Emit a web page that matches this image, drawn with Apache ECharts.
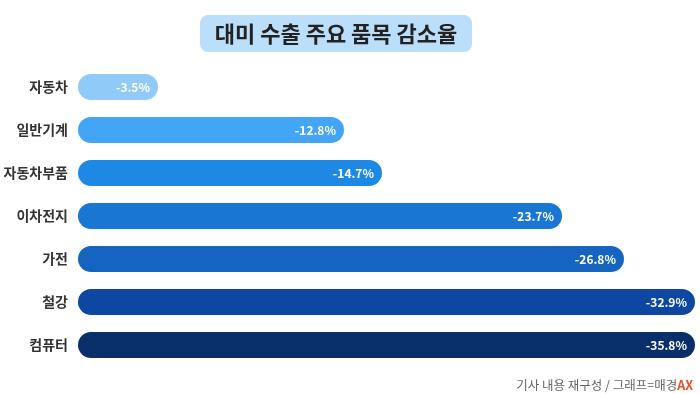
<!DOCTYPE html>
<html>
<head>
<meta charset="utf-8">
<script src="https://cdn.jsdelivr.net/npm/echarts@6/dist/echarts.min.js"></script>
<style>
html,body{margin:0;padding:0;background:#fff;}
#c{width:700px;height:394px;}
</style>
</head>
<body>
<div id="c"></div>
<script>
const titleText = '대미 수출 주요 품목 감소율';
const categories = ['자동차', '일반기계', '자동차부품', '이차전지', '가전', '철강', '컴퓨터'];
const values = [-3.5, -12.8, -14.7, -23.7, -26.8, -32.9, -35.8];
const barColors = ['#90CAF9', '#42A5F5', '#1E88E5', '#1976D2', '#1565C0', '#0D47A1', '#0A2E6A'];
const sourceText = '기사 내용 재구성 / 그래프=매경';
const sourceBrand = 'AX';

const AXIS_START = 0.5;   // bars start slightly before zero (rounded cap)
const AXIS_END = -30.35;  // plot extent; longer bars are clipped at the edge

const chart = echarts.init(document.getElementById('c'), null, {renderer: 'canvas'});
const FONT = '"Noto Sans CJK KR", "Noto Sans", sans-serif';

const option = {
  backgroundColor: '#ffffff',
  animation: false,
  grid: {left: 78, right: 5, top: 65.5, bottom: 27.5, containLabel: false},
  xAxis: {
    type: 'value', min: AXIS_END, max: AXIS_START, inverse: true,
    show: false
  },
  yAxis: {
    type: 'category', data: categories, inverse: true,
    axisLine: {show: false}, axisTick: {show: false}, splitLine: {show: false},
    axisLabel: {color: '#333', fontSize: 14, fontWeight: 'bold', fontFamily: FONT, margin: 10}
  },
  graphic: [
    {
      type: 'rect', left: 200, top: 15,
      shape: {width: 272, height: 37, r: 8},
      style: {fill: '#BBDEFB'}
    },
    {
      type: 'text', x: 336, y: 33.5,
      style: {
        text: titleText, fill: '#222', font: 'bold 22px ' + FONT,
        align: 'center', verticalAlign: 'middle'
      }
    },
    {
      type: 'text', x: 693, y: 385,
      style: {
        text: '{a|' + sourceText + '}{b|' + sourceBrand + '}',
        align: 'right', verticalAlign: 'middle',
        rich: {
          a: {fill: '#666', fontSize: 12.5, fontFamily: FONT},
          b: {fill: '#E8502A', fontSize: 12.5, fontWeight: 'bold', fontFamily: FONT}
        }
      }
    }
  ],
  series: [{
    type: 'custom',
    encode: {x: 0, y: 1},
    data: values.map((v, i) => [v, categories[i]]),
    clip: false,
    renderItem: function (params, api) {
      const idx = params.dataIndex;
      const v = api.value(0);
      const cat = api.value(1);
      const start = api.coord([AXIS_START, cat]);
      const end = api.coord([v, cat]);
      const cs = params.coordSys;
      const x1 = Math.min(end[0], cs.x + cs.width);
      const h = 26;
      return {
        type: 'rect',
        shape: {x: start[0], y: start[1] - h / 2, width: x1 - start[0], height: h, r: h / 2},
        style: {fill: barColors[idx]},
        textContent: {
          style: {
            text: v.toFixed(1) + '%', fill: '#fff',
            font: 'bold 12px ' + FONT
          }
        },
        textConfig: {position: 'insideRight', distance: 8}
      };
    }
  }]
};
chart.setOption(option);
</script>
</body>
</html>
